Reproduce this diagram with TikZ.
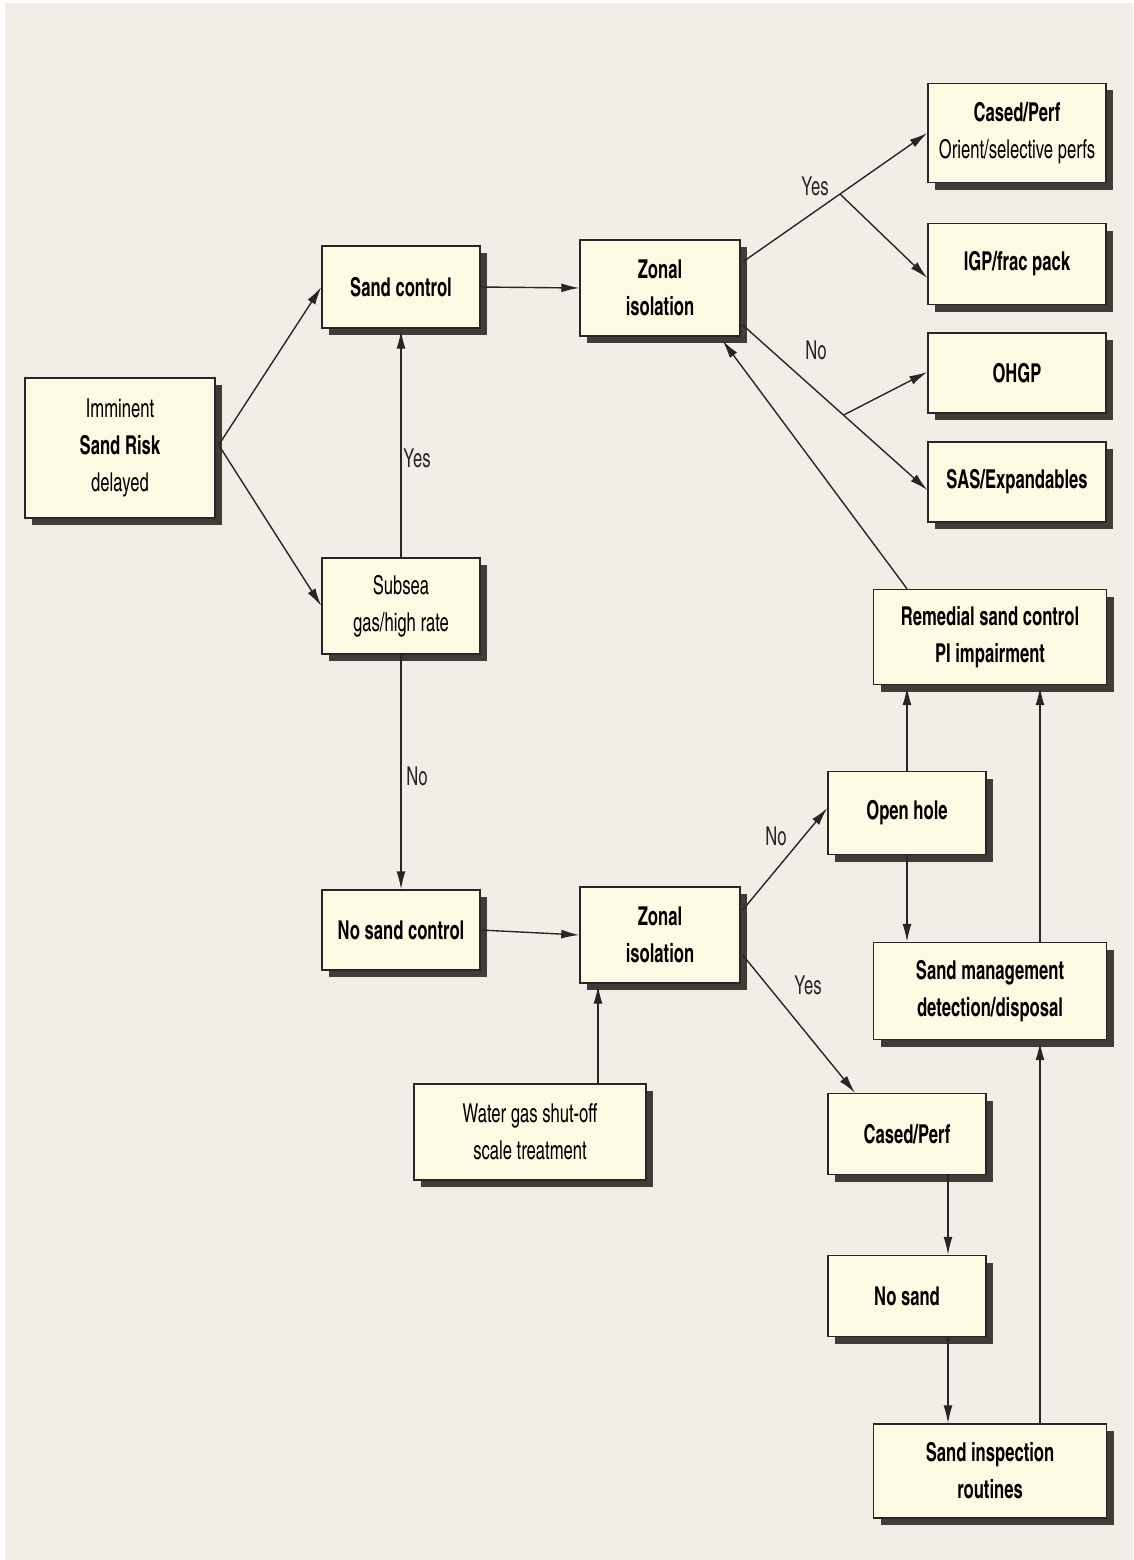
\documentclass[tikz,border=0pt]{standalone}
\usepackage{fontspec}
\setmainfont{TeX Gyre Heros Cn}[FakeStretch=0.78]
\usetikzlibrary{shadows,arrows.meta,calc}
\definecolor{bgc}{HTML}{F2EEE7}
\definecolor{boxc}{HTML}{FDFAE4}
\definecolor{shadc}{HTML}{3F3D38}
\definecolor{linec}{HTML}{262626}
\begin{document}
\begin{tikzpicture}[x=1pt,y=-1pt,
  box/.style={draw=linec, line width=1.4pt, fill=boxc, align=center, inner sep=0pt,
    font=\fontsize{26}{37}\selectfont,
    drop shadow={shadow xshift=7pt, shadow yshift=-7pt, fill=shadc, opacity=1}},
  arr/.style={draw=linec, line width=1.4pt, -{Latex[length=18pt,width=9pt]}},
  lab/.style={font=\fontsize{26}{30}\selectfont, text=linec, inner sep=0pt}]
\useasboundingbox (0,0) rectangle (1133,1560);
\fill[white] (0,0) rectangle (1133,1560);
\fill[bgc] (5,3) rectangle (1133,1560);

\node[box, minimum width=190pt, minimum height=140pt] (imm) at (120,448) {Imminent\\\textbf{Sand Risk}\\delayed};
\node[box, minimum width=158pt, minimum height=82pt] (sc) at (401,287) {\textbf{Sand control}};
\node[box, minimum width=158pt, minimum height=96pt] (sub) at (401,606) {Subsea\\gas/high rate};
\node[box, minimum width=158pt, minimum height=80pt] (nsc) at (401,930) {\textbf{No sand control}};
\node[box, minimum width=160pt, minimum height=96pt] (z1) at (660,288) {\textbf{Zonal}\\\textbf{isolation}};
\node[box, minimum width=160pt, minimum height=96pt] (z2) at (660,935) {\textbf{Zonal}\\\textbf{isolation}};
\node[box, minimum width=178pt, minimum height=99pt] (cp1) at (1017,133) {\textbf{Cased/Perf}\\Orient/selective perfs};
\node[box, minimum width=178pt, minimum height=81pt] (igp) at (1017,264) {\textbf{IGP/frac pack}};
\node[box, minimum width=178pt, minimum height=80pt] (ohgp) at (1017,373) {\textbf{OHGP}};
\node[box, minimum width=178pt, minimum height=80pt] (sas) at (1017,482) {\textbf{SAS/Expandables}};
\node[box, minimum width=233pt, minimum height=95pt] (rem) at (990,637) {\textbf{Remedial sand control}\\\textbf{PI impairment}};
\node[box, minimum width=158pt, minimum height=83pt] (oh) at (907,813) {\textbf{Open hole}};
\node[box, minimum width=233pt, minimum height=97pt] (sm) at (990,991) {\textbf{Sand management}\\\textbf{detection/disposal}};
\node[box, minimum width=232pt, minimum height=96pt] (wg) at (530,1132) {Water gas shut-off\\scale treatment};
\node[box, minimum width=158pt, minimum height=81pt] (cp2) at (907,1134) {\textbf{Cased/Perf}};
\node[box, minimum width=158pt, minimum height=81pt] (ns) at (907,1296) {\textbf{No sand}};
\node[box, minimum width=233pt, minimum height=94pt] (si) at (990,1471) {\textbf{Sand inspection}\\\textbf{routines}};

% left part
\draw[arr] ($(imm.east)+(3,-3)$) -- (sc.west);
\draw[arr] ($(imm.east)+(3,-3)$) -- (sub.west);
\draw[arr] (sub.north) -- ($(sc.south)+(0,2)$);
\draw[arr] (sub.south) -- (nsc.north);
\node[lab] (ly1) at (417,458) {Yes};
\node[lab] (ln1) at (417,776) {No};
\draw[arr] (sc.east) -- (z1.west);
\draw[arr] (nsc.east) -- (z2.west);

% top zonal isolation branches
\draw[arr] ($(z1.east)+(2,-26)$) -- coordinate[pos=0.527] (yb) (cp1.west);
\draw[arr] (yb) -- ($(igp.west)+(0,14)$);
\draw[arr] ($(z1.east)+(2,37)$) -- coordinate[pos=0.546] (nb) ($(sas.west)+(0,8)$);
\draw[arr] (nb) -- ($(ohgp.west)+(0,-1)$);
\node[lab] (ly2) at (815,186) {Yes};
\node[lab] (ln2) at (816,350) {No};

% remedial to zonal
\draw[arr] ($(rem.north)+(-83,0)$) -- ($(z1.south east)+(-18,4)$);
\draw[arr] ($(oh.north)$) -- ($(rem.south)+(-83,2)$);
\draw[arr] ($(oh.south)$) -- ($(sm.north)+(-83,0)$);
\draw[arr] ($(sm.north)+(50,0)$) -- ($(rem.south)+(50,2)$);
\draw[arr] ($(si.north)+(50,0)$) -- ($(sm.south)+(50,2)$);

% bottom zonal isolation
\draw[arr] ($(wg.north)+(68,0)$) -- ($(z2.south)+(-62,2)$);
\draw[arr] ($(z2.east)+(2,-25)$) -- ($(oh.west)+(0,-5)$);
\draw[arr] ($(z2.east)+(2,20)$) -- ($(cp2.north)+(-52,0)$);
\node[lab] (ln3) at (776,836) {No};
\node[lab] (ly3) at (808,985) {Yes};
\draw[arr] ($(cp2.south)+(41,0)$) -- ($(ns.north)+(41,0)$);
\draw[arr] ($(ns.south)+(41,0)$) -- ($(si.north)+(-42,0)$);
\end{tikzpicture}
\end{document}
